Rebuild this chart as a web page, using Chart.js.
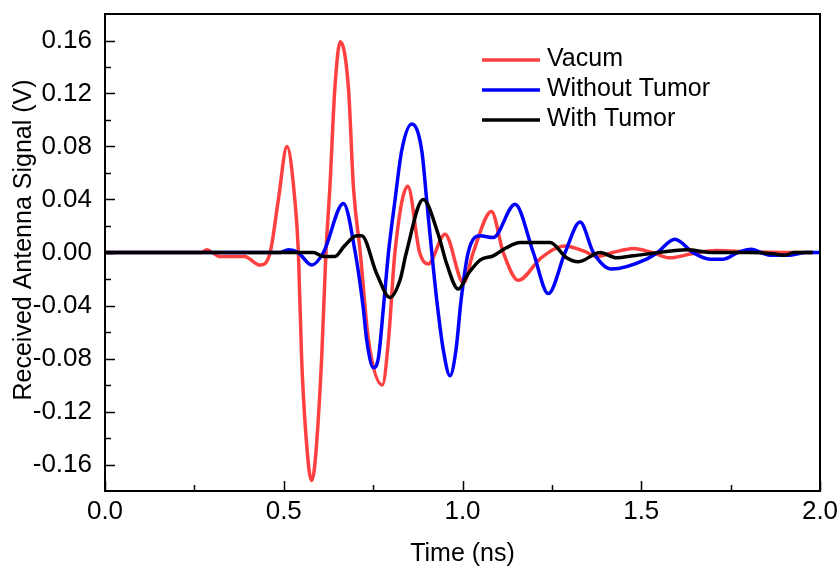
<!DOCTYPE html>
<html><head><meta charset="utf-8">
<script src="https://cdn.jsdelivr.net/npm/chart.js@4.4.1/dist/chart.umd.min.js"></script>
<style>html,body{margin:0;padding:0;background:#fff;}canvas{display:block}</style>
</head><body>
<canvas id="c" width="838" height="569"></canvas>
<script>
// ---- data ----
const vacumTime   = [0, 0.27, 0.285, 0.30, 0.32, 0.39, 0.434, 0.462, 0.485, 0.509, 0.531, 0.541, 0.55, 0.569, 0.578, 0.587, 0.606, 0.618, 0.629, 0.643, 0.658, 0.681, 0.695, 0.714, 0.737, 0.776, 0.793, 0.811, 0.847, 0.88, 0.904, 0.951, 1.003, 1.03, 1.081, 1.114, 1.156, 1.22, 1.287, 1.34, 1.375, 1.42, 1.478, 1.53, 1.58, 1.64, 1.71, 1.80, 1.90, 1.98];
const vacumSignal = [0, 0, 0.002, 0, -0.003, -0.003, -0.0095, 0, 0.04, 0.080, 0.04, 0, -0.08, -0.16, -0.172, -0.16, -0.08, 0, 0.049, 0.124, 0.159, 0.124, 0.049, 0, -0.066, -0.100, -0.066, 0, 0.050, 0, -0.0087, 0.0138, -0.023, 0, 0.031, 0, -0.021, -0.004, 0.005, 0.001, -0.003, 0, 0.003, 0, -0.004, -0.001, 0.0015, 0.0005, 0, 0];

const withoutTime   = [0, 0.49, 0.513, 0.54, 0.578, 0.611, 0.667, 0.70, 0.722, 0.732, 0.751, 0.765, 0.779, 0.793, 0.811, 0.83, 0.858, 0.886, 0.90, 0.914, 0.928, 0.946, 0.965, 0.982, 0.996, 1.016, 1.049, 1.086, 1.147, 1.198, 1.24, 1.287, 1.329, 1.366, 1.417, 1.515, 1.545, 1.594, 1.645, 1.692, 1.73, 1.77, 1.808, 1.835, 1.86, 1.916, 1.96, 2.0];
const withoutSignal = [0, 0, 0.002, 0, -0.0095, 0, 0.037, 0, -0.041, -0.066, -0.087, -0.079, -0.041, 0, 0.039, 0.077, 0.097, 0.077, 0.039, 0, -0.036, -0.073, -0.093, -0.073, -0.036, 0, 0.0126, 0.0113, 0.0364, 0, -0.031, 0, 0.023, 0, -0.0125, -0.005, 0, 0.010, 0, -0.005, -0.005, 0, 0.0025, 0, -0.002, -0.002, 0, 0];

const withTime   = [0, 0.583, 0.611, 0.643, 0.67, 0.704, 0.718, 0.76, 0.797, 0.825, 0.843, 0.890, 0.932, 0.956, 0.988, 1.016, 1.049, 1.086, 1.124, 1.161, 1.245, 1.291, 1.324, 1.385, 1.43, 1.478, 1.55, 1.627, 1.70, 1.80, 1.87, 1.90, 1.93, 1.98];
const withSignal = [0, 0, -0.003, -0.003, 0.005, 0.0126, 0.0126, -0.016, -0.034, -0.021, 0, 0.040, 0.0138, -0.0087, -0.0276, -0.016, -0.0057, -0.0025, 0.0038, 0.0075, 0.0075, -0.004, -0.007, 0, -0.004, -0.0025, 0, 0.002, 0, 0, -0.001, -0.002, 0, 0];

const seriesNames  = ['Vacum', 'Without Tumor', 'With Tumor'];
const xTickValues  = [0, 0.5, 1.0, 1.5, 2.0];
const xTickLabels  = ['0.0', '0.5', '1.0', '1.5', '2.0'];
const xMinorValues = [0.25, 0.75, 1.25, 1.75];
const yTickValues  = [-0.16, -0.12, -0.08, -0.04, 0, 0.04, 0.08, 0.12, 0.16];
const yTickLabels  = ['-0.16', '-0.12', '-0.08', '-0.04', '0.00', '0.04', '0.08', '0.12', '0.16'];
const yMinorValues = [-0.14, -0.10, -0.06, -0.02, 0.02, 0.06, 0.10, 0.14];
const xTitle = 'Time (ns)';
const yTitle = 'Received Antenna Signal (V)';

// ---- styles ----
const FONT = "'Liberation Sans', Arial, sans-serif";
const colors = ['#ff4040', '#0000ff', '#000000'];

function pts(t, v) { return t.map((x, i) => ({x: x, y: v[i]})); }

const frameAndTicks = {
  id: 'frameAndTicks',
  afterDraw(chart) {
    const {ctx, chartArea: a, scales: {x, y}} = chart;
    ctx.save();
    ctx.strokeStyle = '#000';
    ctx.lineWidth = 2;
    ctx.strokeRect(a.left, a.top, a.right - a.left, a.bottom - a.top);
    ctx.lineWidth = 1.5;
    ctx.beginPath();
    xTickValues.forEach(v => { const px = Math.round(x.getPixelForValue(v)) + 0.5; ctx.moveTo(px, a.bottom); ctx.lineTo(px, a.bottom - 10); });
    xMinorValues.forEach(v => { const px = Math.round(x.getPixelForValue(v)) + 0.5; ctx.moveTo(px, a.bottom); ctx.lineTo(px, a.bottom - 6); });
    yTickValues.forEach(v => { const py = Math.round(y.getPixelForValue(v)) + 0.5; ctx.moveTo(a.left, py); ctx.lineTo(a.left + 10, py); });
    yMinorValues.forEach(v => { const py = Math.round(y.getPixelForValue(v)) + 0.5; ctx.moveTo(a.left, py); ctx.lineTo(a.left + 6, py); });
    ctx.stroke();

    // y axis title
    ctx.fillStyle = '#000';
    ctx.font = '25px ' + FONT;
    ctx.textAlign = 'center';
    ctx.textBaseline = 'middle';
    ctx.translate(24, 240);
    ctx.rotate(-Math.PI / 2);
    ctx.fillText(yTitle, 0, 0);
    ctx.restore();

    // legend
    ctx.save();
    ctx.font = '25px ' + FONT;
    ctx.textAlign = 'left';
    ctx.textBaseline = 'middle';
    chart.data.datasets.forEach((ds, i) => {
      const yy = 60 + i * 30;
      ctx.strokeStyle = ds.borderColor;
      ctx.lineWidth = 3.5;
      ctx.beginPath();
      ctx.moveTo(482, yy);
      ctx.lineTo(540, yy);
      ctx.stroke();
      ctx.fillStyle = '#000';
      ctx.fillText(ds.label, 547, yy - 0.5);
    });
    ctx.restore();
  }
};

new Chart(document.getElementById('c'), {
  type: 'line',
  data: {
    datasets: [
      {label: seriesNames[0], data: pts(vacumTime, vacumSignal), borderColor: colors[0], order: 3},
      {label: seriesNames[1], data: pts(withoutTime, withoutSignal), borderColor: colors[1], order: 2},
      {label: seriesNames[2], data: pts(withTime, withSignal), borderColor: colors[2], order: 1}
    ]
  },
  options: {
    responsive: false,
    animation: false,
    parsing: false,
    layout: {padding: {left: 0, right: 18, top: 14, bottom: 0}},
    elements: {
      line: {borderWidth: 3.5, cubicInterpolationMode: 'monotone', fill: false},
      point: {radius: 0, hoverRadius: 0}
    },
    plugins: {legend: {display: false}, tooltip: {enabled: false}},
    scales: {
      x: {
        type: 'linear', min: 0, max: 2,
        afterBuildTicks: s => { s.ticks = xTickValues.map(v => ({value: v})); },
        afterFit: s => { s.height = 78; s.paddingLeft = 0; s.paddingRight = 0; },
        ticks: {
          callback: (v, i) => xTickLabels[i],
          font: {family: FONT, size: 26}, color: '#000', padding: 5, maxRotation: 0, autoSkip: false
        },
        grid: {display: false, drawTicks: false},
        border: {display: false},
        title: {display: true, text: xTitle, font: {family: FONT, size: 25}, color: '#000', padding: {top: 0, bottom: 0}}
      },
      y: {
        type: 'linear', min: -0.18, max: 0.18,
        afterBuildTicks: s => { s.ticks = yTickValues.map(v => ({value: v})); },
        afterFit: s => { s.width = 105; s.paddingTop = 0; s.paddingBottom = 0; },
        ticks: {
          callback: (v, i) => yTickLabels[i],
          font: {family: FONT, size: 26}, color: '#000', padding: 13, autoSkip: false
        },
        grid: {display: false, drawTicks: false},
        border: {display: false}
      }
    }
  },
  plugins: [frameAndTicks]
});
</script>
</body></html>
